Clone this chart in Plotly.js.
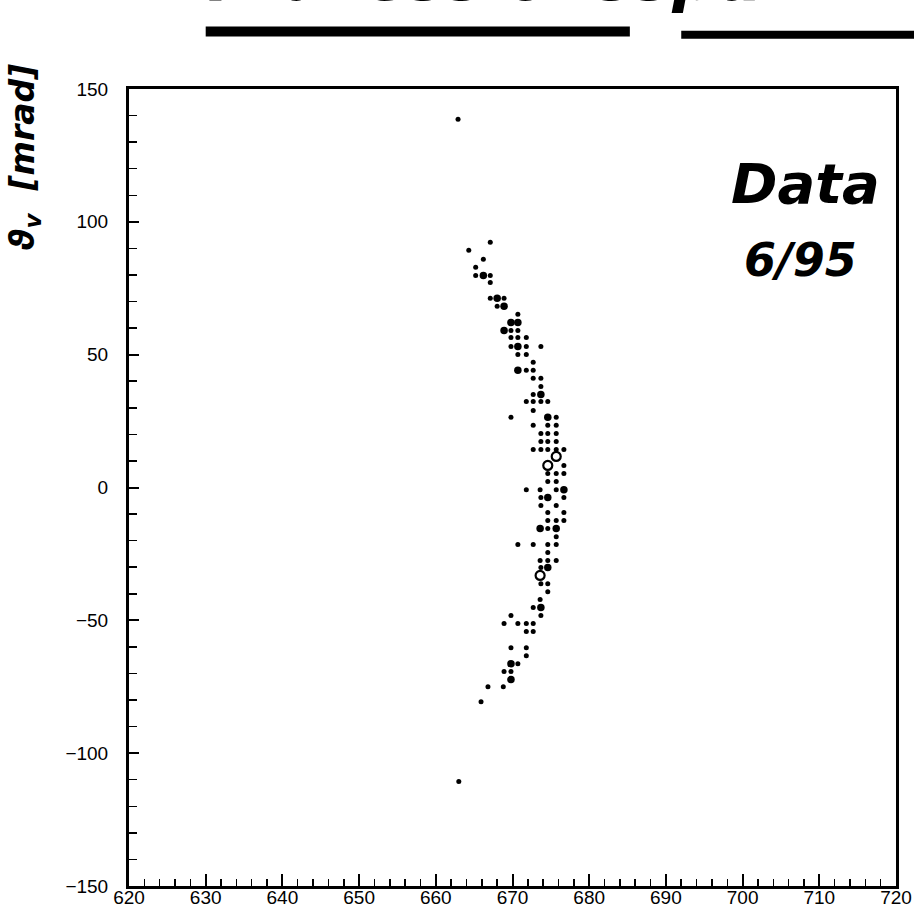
<!DOCTYPE html>
<html><head><meta charset="utf-8">
<script src="https://cdn.plot.ly/plotly-3.0.1.min.js"></script>
<style>body{margin:0;background:#fff}#plot{width:914px;height:909px}</style>
</head><body><div id="plot"></div>
<script>
// small dots
const smallX = [667.1,664.3,666.2,665.2,665.2,667.1,667.1,667.1,668.9,668.0,670.7,669.8,670.7,669.8,670.7,671.8,669.8,671.8,673.7,670.7,671.8,672.7,671.8,672.7,672.7,673.7,673.7,672.7,671.8,672.7,673.7,674.6,672.7,669.8,675.7,672.7,674.6,675.7,673.7,674.6,675.7,673.7,674.6,675.7,672.7,673.7,674.6,675.7,676.7,676.7,674.6,675.7,676.7,674.6,675.7,671.8,673.6,675.7,673.7,676.7,673.7,675.7,674.6,676.7,674.6,675.7,676.7,674.6,675.7,670.7,672.7,674.6,675.7,674.6,673.6,674.6,675.7,673.7,673.7,674.6,674.6,673.6,672.7,673.7,669.8,668.9,670.7,671.8,672.7,671.8,672.7,669.8,671.8,671.8,670.7,668.9,669.8,666.8,668.8,665.9,662.9,663.0];
const smallY = [92.3,89.3,85.9,82.9,79.8,79.8,77.2,71.2,71.2,68.2,65.2,59.1,59.1,56.5,56.5,56.5,53.1,53.1,53.1,50.1,50.1,47.1,44.1,44.1,41.1,41.1,38.0,35.0,32.4,32.4,32.4,32.4,29.0,26.4,26.4,23.4,23.4,23.4,20.3,20.3,20.3,17.3,17.3,17.3,14.3,14.3,14.3,14.3,14.3,8.3,5.3,5.3,5.3,2.3,2.3,-0.8,-0.8,-0.8,-3.8,-3.8,-6.8,-6.8,-9.4,-9.4,-12.4,-12.4,-12.4,-15.4,-18.5,-21.5,-21.5,-21.5,-21.5,-24.5,-27.5,-27.5,-27.5,-30.1,-36.2,-36.2,-39.2,-42.2,-45.2,-48.2,-48.2,-51.2,-51.2,-51.2,-51.2,-54.2,-54.2,-60.3,-60.3,-63.3,-66.3,-69.3,-69.3,-75.0,-75.0,-80.6,138.6,-110.7];
// larger dots
const bigX = [666.2,668.0,668.9,669.8,670.7,668.9,670.7,670.7,673.7,674.6,676.7,674.6,673.6,675.7,674.6,673.7,669.8,669.8];
const bigY = [79.8,71.2,68.2,62.1,62.1,59.1,53.1,44.1,35.0,26.4,-0.8,-3.8,-15.4,-15.4,-30.1,-45.2,-66.3,-72.3];
// open circles
const openX = [675.7,674.6,673.6];
const openY = [11.7,8.3,-33.1];
const xTicks = [620,630,640,650,660,670,680,690,700,710,720];
const yTicks = [-150,-100,-50,0,50,100,150];
const yTickText = ['\u2212150','\u2212100','\u221250','0','50','100','150'];

const traces = [
  {x: smallX, y: smallY, type:'scatter', mode:'markers', marker:{color:'#000', size:5}, hoverinfo:'x+y'},
  {x: bigX, y: bigY, type:'scatter', mode:'markers', marker:{color:'#000', size:7.5}, hoverinfo:'x+y'},
  {x: openX, y: openY, type:'scatter', mode:'markers', marker:{color:'#000', size:9, symbol:'circle-open', line:{width:2.2, color:'#000'}}, hoverinfo:'x+y'}
];

const hand = "DejaVu Sans";
const tickFont = {size:19, family:'Liberation Sans Narrow, Liberation Sans, sans-serif', color:'#000'};
const layout = {
  width:914, height:909,
  margin:{l:129, r:18, t:89, b:23},
  paper_bgcolor:'#fff', plot_bgcolor:'#fff',
  showlegend:false,
  font:{family:'Liberation Sans, Arial, sans-serif', color:'#000', size:18},
  xaxis:{range:[620,720], tickvals:xTicks, ticktext:xTicks.map(String), ticks:'inside', ticklen:12, tickwidth:2, tickcolor:'#000',
    minor:{dtick:2, tick0:620, ticks:'inside', ticklen:7, tickwidth:1.5, tickcolor:'#000'},
    showline:true, linewidth:3, linecolor:'#000', mirror:true, showgrid:false, zeroline:false,
    tickfont:tickFont, ticklabelstandoff:-8, automargin:false},
  yaxis:{range:[-150,150], tickvals:yTicks, ticktext:yTickText, ticks:'inside', ticklen:10, tickwidth:2, tickcolor:'#000',
    minor:{dtick:10, tick0:0, ticks:'inside', ticklen:8, tickwidth:1.5, tickcolor:'#000'},
    showline:true, linewidth:3, linecolor:'#000', mirror:true, showgrid:false, zeroline:false,
    tickfont:tickFont, ticklabelstandoff:14, automargin:false},
  annotations:[
    {xref:'paper', yref:'paper', x:0.982, y:0.882, xanchor:'right', yanchor:'middle', showarrow:false,
     text:'<b><i>Data</i></b>', font:{family:hand, size:56, color:'#000'}},
    {xref:'paper', yref:'paper', x:0.952, y:0.786, xanchor:'right', yanchor:'middle', showarrow:false,
     text:'<b><i>6/95</i></b>', font:{family:hand, size:46, color:'#000'}},
    {xref:'paper', yref:'paper', x:-0.136, y:0.915, xanchor:'center', yanchor:'middle', showarrow:false, textangle:-90,
     text:'<b><i>\u03d1<sub>v</sub>  [mrad]</i></b>', font:{family:hand, size:33, color:'#000'}},
    {xref:'paper', yref:'paper', x:0.1, y:1.09, xanchor:'left', yanchor:'bottom', showarrow:false,
     text:'<b><i>Präzessionsspur</i></b>', font:{family:hand, size:64, color:'#000'}}
  ],
  shapes:[
    {type:'line', xref:'paper', yref:'paper', x0:0.1, x1:0.653, y0:1.072, y1:1.072, line:{color:'#000', width:10}},
    {type:'line', xref:'paper', yref:'paper', x0:0.72, x1:1.03, y0:1.068, y1:1.068, line:{color:'#000', width:8}}
  ]
};
Plotly.newPlot('plot', traces, layout, {displayModeBar:false, staticPlot:true});
</script></body></html>
